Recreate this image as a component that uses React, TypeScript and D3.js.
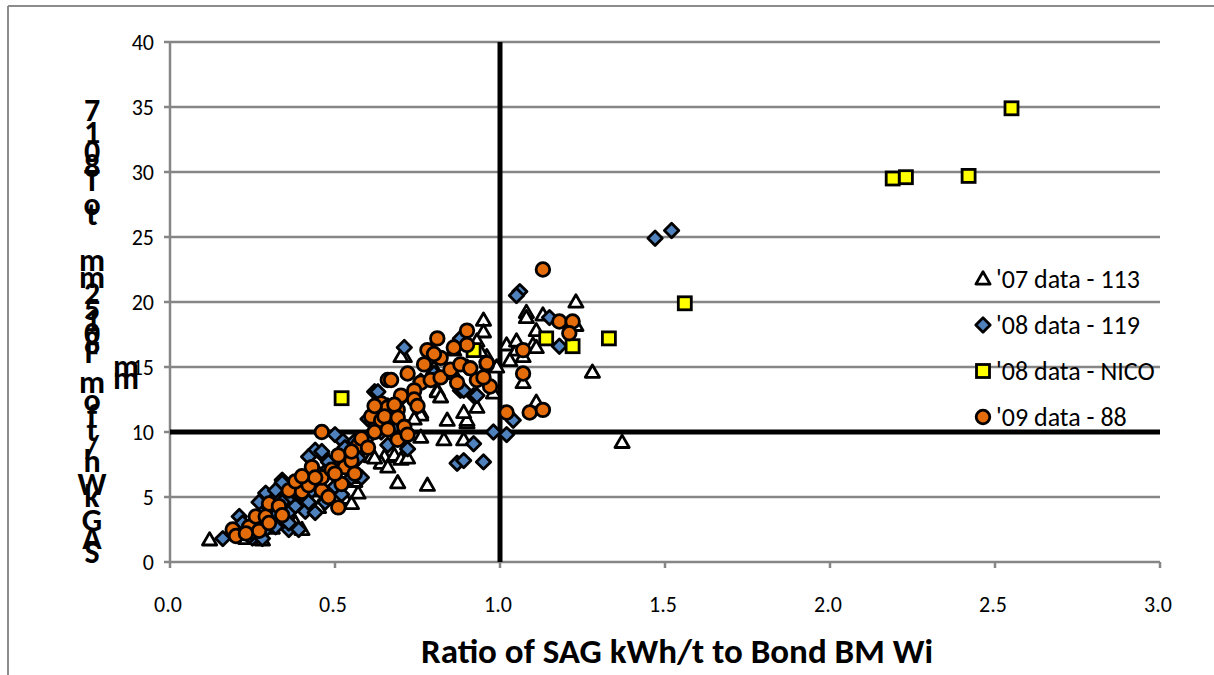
import React, { useEffect } from 'react';
import * as d3 from 'd3';

// '07 data - 113 (triangles)
const data07: [number, number][] = [
  [0.12, 1.7], [0.23, 1.8], [0.28, 1.7], [0.31, 2.6], [0.34, 3.3], [0.38, 3.0], [0.40, 2.5],
  [0.45, 4.2], [0.47, 5.0], [0.50, 5.8], [0.53, 4.9], [0.55, 4.5], [0.57, 5.3], [0.56, 6.2],
  [0.61, 8.1], [0.65, 8.1], [0.68, 8.1], [0.64, 7.6], [0.69, 6.1], [0.78, 5.9], [0.68, 8.2],
  [0.62, 8.0], [0.70, 7.9], [0.76, 9.6], [0.76, 11.5], [0.76, 11.3], [0.81, 13.2], [0.81, 13.1],
  [0.83, 9.4], [0.84, 10.9], [0.89, 9.4], [0.90, 10.7], [0.90, 10.9], [0.89, 11.5], [0.93, 11.9],
  [0.71, 15.8], [0.70, 15.8], [0.80, 14.9], [0.86, 16.3], [0.87, 16.8], [0.95, 18.6], [0.95, 17.7],
  [0.96, 15.8], [0.94, 16.2], [1.02, 16.7], [1.05, 16.3], [1.07, 15.8], [1.08, 19.2], [1.08, 18.8],
  [1.11, 17.8], [1.10, 16.7], [1.13, 19.0], [1.23, 20.0], [1.23, 18.2], [1.11, 16.5], [1.03, 15.5],
  [1.07, 13.8], [1.28, 14.6], [1.11, 12.3], [1.37, 9.2], [0.99, 15.0], [0.93, 17.0], [0.58, 9.0],
  [0.50, 7.5], [0.44, 5.5], [0.35, 4.0], [0.20, 2.4], [0.26, 2.2], [0.72, 8.0], [0.66, 7.3],
  [0.55, 6.5], [0.86, 14.5], [1.05, 17.0], [0.82, 12.7], [0.74, 11.0], [0.98, 13.0],
];

// '08 data - 119 (diamonds)
const data08: [number, number][] = [
  [0.16, 1.8], [0.21, 3.5], [0.24, 2.5], [0.25, 1.85], [0.29, 2.5], [0.29, 5.3], [0.33, 5.7],
  [0.34, 6.3], [0.36, 4.9], [0.34, 4.6], [0.36, 3.8], [0.34, 3.2], [0.36, 2.5], [0.39, 2.5],
  [0.32, 3.8], [0.27, 4.6], [0.32, 2.7], [0.19, 2.2], [0.22, 3.0], [0.27, 3.2], [0.30, 4.2],
  [0.38, 4.3], [0.41, 3.9], [0.40, 5.1], [0.42, 4.6], [0.44, 3.8], [0.43, 5.5], [0.38, 5.3],
  [0.40, 6.0], [0.45, 6.8], [0.42, 6.5], [0.48, 7.2], [0.46, 8.3], [0.44, 8.6], [0.42, 8.1],
  [0.46, 8.5], [0.52, 9.4], [0.48, 7.7], [0.55, 6.5], [0.58, 6.5], [0.50, 5.8], [0.34, 6.1],
  [0.32, 5.5], [0.39, 5.3], [0.53, 8.8], [0.56, 9.3], [0.50, 9.8], [0.55, 7.5], [0.58, 8.6],
  [0.60, 9.6], [0.62, 13.1], [0.63, 13.1], [0.71, 16.5], [0.88, 17.1], [0.88, 13.2], [0.92, 12.8],
  [0.80, 14.5], [0.72, 8.7], [0.87, 7.6], [0.89, 7.8], [0.95, 7.7], [0.92, 9.1], [0.93, 12.8],
  [0.89, 13.2], [1.04, 10.9], [1.02, 9.8], [1.06, 20.8], [1.05, 20.5], [1.15, 18.8], [1.18, 16.6],
  [1.47, 24.9], [1.52, 25.5], [0.88, 17.2], [0.66, 12.0], [0.60, 11.0], [0.70, 12.6], [0.76, 13.9],
  [0.68, 10.4], [0.64, 10.0], [0.90, 15.0], [0.24, 2.0], [0.28, 1.8], [0.47, 4.6], [0.52, 5.2],
  [0.36, 3.0], [0.30, 3.2], [0.98, 10.0], [0.50, 7.0], [0.57, 8.0], [0.66, 9.0],
];

// '08 data - NICO (squares)
const dataNico: [number, number][] = [
  [2.55, 34.9], [2.19, 29.5], [2.23, 29.6], [2.42, 29.7], [1.56, 19.9], [1.33, 17.2],
  [1.22, 16.6], [1.14, 17.2], [0.52, 12.6], [0.92, 16.3],
];

// '09 data - 88 (circles)
const data09: [number, number][] = [
  [0.19, 2.5], [0.24, 2.7], [0.26, 3.5], [0.29, 3.5], [0.38, 6.1], [0.20, 2.0], [0.30, 4.5],
  [0.33, 4.3], [0.36, 5.5], [0.40, 5.4], [0.42, 5.9], [0.46, 5.5], [0.38, 6.2], [0.43, 7.3],
  [0.46, 6.5], [0.49, 7.1], [0.53, 7.3], [0.55, 7.8], [0.51, 8.2], [0.57, 9.0], [0.51, 4.2],
  [0.46, 10.0], [0.61, 11.2], [0.64, 10.9], [0.67, 11.2], [0.69, 11.7], [0.64, 12.2], [0.66, 11.9],
  [0.66, 14.0], [0.69, 9.4], [0.72, 14.5], [0.67, 14.0], [0.76, 13.8], [0.79, 14.0], [0.82, 14.2],
  [0.85, 14.8], [0.87, 13.8], [0.93, 14.0], [0.97, 13.5], [0.70, 12.8], [0.74, 13.2], [0.74, 12.5],
  [0.68, 12.1], [0.65, 11.2], [0.69, 11.1], [0.71, 10.4], [0.81, 17.2], [0.90, 17.8], [0.90, 16.7],
  [0.78, 16.3], [0.82, 15.7], [0.88, 15.2], [0.91, 14.9], [0.96, 15.2], [0.96, 15.3], [1.07, 16.3],
  [1.07, 14.5], [1.02, 11.5], [1.09, 11.5], [1.13, 11.7], [1.13, 22.5], [1.18, 18.5], [1.22, 18.5],
  [1.21, 17.6], [0.62, 10.0], [0.58, 9.5], [0.55, 8.5], [0.60, 8.8], [0.52, 6.0], [0.48, 5.0],
  [0.44, 6.5], [0.72, 9.8], [0.75, 12.0], [0.80, 16.0], [0.86, 16.5], [0.56, 6.8], [0.34, 3.6],
  [0.27, 2.4], [0.23, 2.2], [0.30, 3.0], [0.40, 6.6], [0.50, 6.8], [0.62, 12.0], [0.66, 10.2],
  [0.77, 15.2], [0.95, 14.2],
];

const xTicks = [0, 0.5, 1, 1.5, 2, 2.5, 3];
const yTicks = [0, 5, 10, 15, 20, 25, 30, 35, 40];
const legendLabels = ["'07 data - 113", "'08 data - 119", "'08 data - NICO", "'09 data - 88"];
const refX = 1.0; // vertical reference line
const refY = 10; // horizontal reference line

// garbled stacked y-axis title, as it is rendered in the original
const yTitleChars = ['7', '1', '0', '8', 'T', 'o', 't', 'm', 'm', '2', '5', '1', '0', '8', 'F',
  'm', 'o', 'f', 't', '/', 'h', 'W', 'k', 'G', 'A', 'S'];
const yTitleRows = [110, 132, 151, 166, 180, 204, 214, 260, 277, 293, 309, 320, 333, 343, 352,
  382, 400, 416, 430, 447, 461, 484, 496, 520, 538, 552];

const W = 1214;
const H = 675;
const M = { left: 170, right: 1160, top: 42, bottom: 562 };
const FONT = "Carlito, 'Liberation Sans', Arial, sans-serif";
const GRID = '#868686';

const x = d3.scaleLinear().domain([0, 3]).range([M.left, M.right]);
const y = d3.scaleLinear().domain([0, 40]).range([M.bottom, M.top]);

const triPath = d3.symbol().type(d3.symbolTriangle).size(88)()!;
const diaPath = 'M0,-7.2L7.2,0L0,7.2L-7.2,0Z';
const SW = 2.8;

const Tri = ({ cx, cy }: { cx: number; cy: number }) => (
  <path d={triPath} transform={`translate(${cx},${cy + 1})`} fill="#fff" stroke="#000" strokeWidth={SW} strokeLinejoin="round" />
);
const Dia = ({ cx, cy }: { cx: number; cy: number }) => (
  <path d={diaPath} transform={`translate(${cx},${cy})`} fill="#4F81BD" stroke="#000" strokeWidth={SW} strokeLinejoin="round" />
);
const Sq = ({ cx, cy }: { cx: number; cy: number }) => (
  <rect x={cx - 6.5} y={cy - 6.5} width={13} height={13} fill="#FFFF00" stroke="#000" strokeWidth={SW} />
);
const Circ = ({ cx, cy }: { cx: number; cy: number }) => (
  <circle cx={cx} cy={cy} r={6.8} fill="#E46C0A" stroke="#000" strokeWidth={SW} />
);

const markers = [Tri, Dia, Sq, Circ];

export default function App() {
  useEffect(() => {
    document.body.style.margin = '0';
  }, []);

  return (
    <svg width={W} height={H} style={{ display: 'block', background: '#fff', fontFamily: FONT }}>
      {/* outer frame */}
      <line x1={8} y1={6} x2={W} y2={6} stroke="#8c8c8c" strokeWidth={2} />
      <line x1={8} y1={6} x2={8} y2={H} stroke="#8c8c8c" strokeWidth={2} />

      {/* gridlines */}
      {yTicks.filter((t) => t > 0).map((t) => (
        <line key={'g' + t} x1={M.left} x2={M.right} y1={y(t)} y2={y(t)} stroke={GRID} strokeWidth={2.5} />
      ))}

      {/* axes */}
      <line x1={M.left} x2={M.left} y1={M.top} y2={M.bottom} stroke={GRID} strokeWidth={2.5} />
      <line x1={M.left} x2={M.right} y1={M.bottom} y2={M.bottom} stroke={GRID} strokeWidth={2.5} />
      {yTicks.map((t) => (
        <g key={'yt' + t}>
          <line x1={M.left - 6} x2={M.left} y1={y(t)} y2={y(t)} stroke={GRID} strokeWidth={2.5} />
          <text x={M.left - 16} y={y(t)} dy="0.35em" textAnchor="end" fontSize={22}>{t}</text>
        </g>
      ))}
      {xTicks.map((t) => (
        <g key={'xt' + t}>
          <line x1={x(t)} x2={x(t)} y1={M.bottom} y2={M.bottom + 6} stroke={GRID} strokeWidth={2.5} />
          <text x={x(t) - 2} y={604} dy="0.35em" textAnchor="middle" fontSize={22}>{d3.format('.1f')(t)}</text>
        </g>
      ))}

      {/* reference lines */}
      <line x1={x(refX)} x2={x(refX)} y1={y(0)} y2={y(40)} stroke="#000" strokeWidth={5} />
      <line x1={x(0)} x2={x(3)} y1={y(refY)} y2={y(refY)} stroke="#000" strokeWidth={5} />

      {/* series */}
      {[data07, data08, dataNico, data09].map((series, si) => {
        const M_ = markers[si];
        return (
          <g key={'s' + si}>
            {series.map((d, i) => <M_ key={i} cx={x(d[0])} cy={y(d[1])} />)}
          </g>
        );
      })}

      {/* legend */}
      {legendLabels.map((label, i) => {
        const M_ = markers[i];
        const ly = 279 + i * 46;
        return (
          <g key={'l' + i}>
            <M_ cx={983} cy={ly} />
            <text x={996} y={ly} dy="0.35em" fontSize={26}>{label}</text>
          </g>
        );
      })}

      {/* axis titles */}
      <text x={677} y={651} dy="0.35em" textAnchor="middle" fontSize={35} fontWeight="bold">
        Ratio of SAG kWh/t to Bond BM Wi
      </text>
      {yTitleChars.map((c, i) => (
        <text key={'yc' + i} x={92} y={yTitleRows[i]} dy="0.35em" textAnchor="middle" fontSize={32} fontWeight="bold">{c}</text>
      ))}
      <text x={126} y={366} dy="0.35em" textAnchor="middle" fontSize={32} fontWeight="bold">m</text>
      <text x={126} y={378} dy="0.35em" textAnchor="middle" fontSize={32} fontWeight="bold">m</text>
    </svg>
  );
}
